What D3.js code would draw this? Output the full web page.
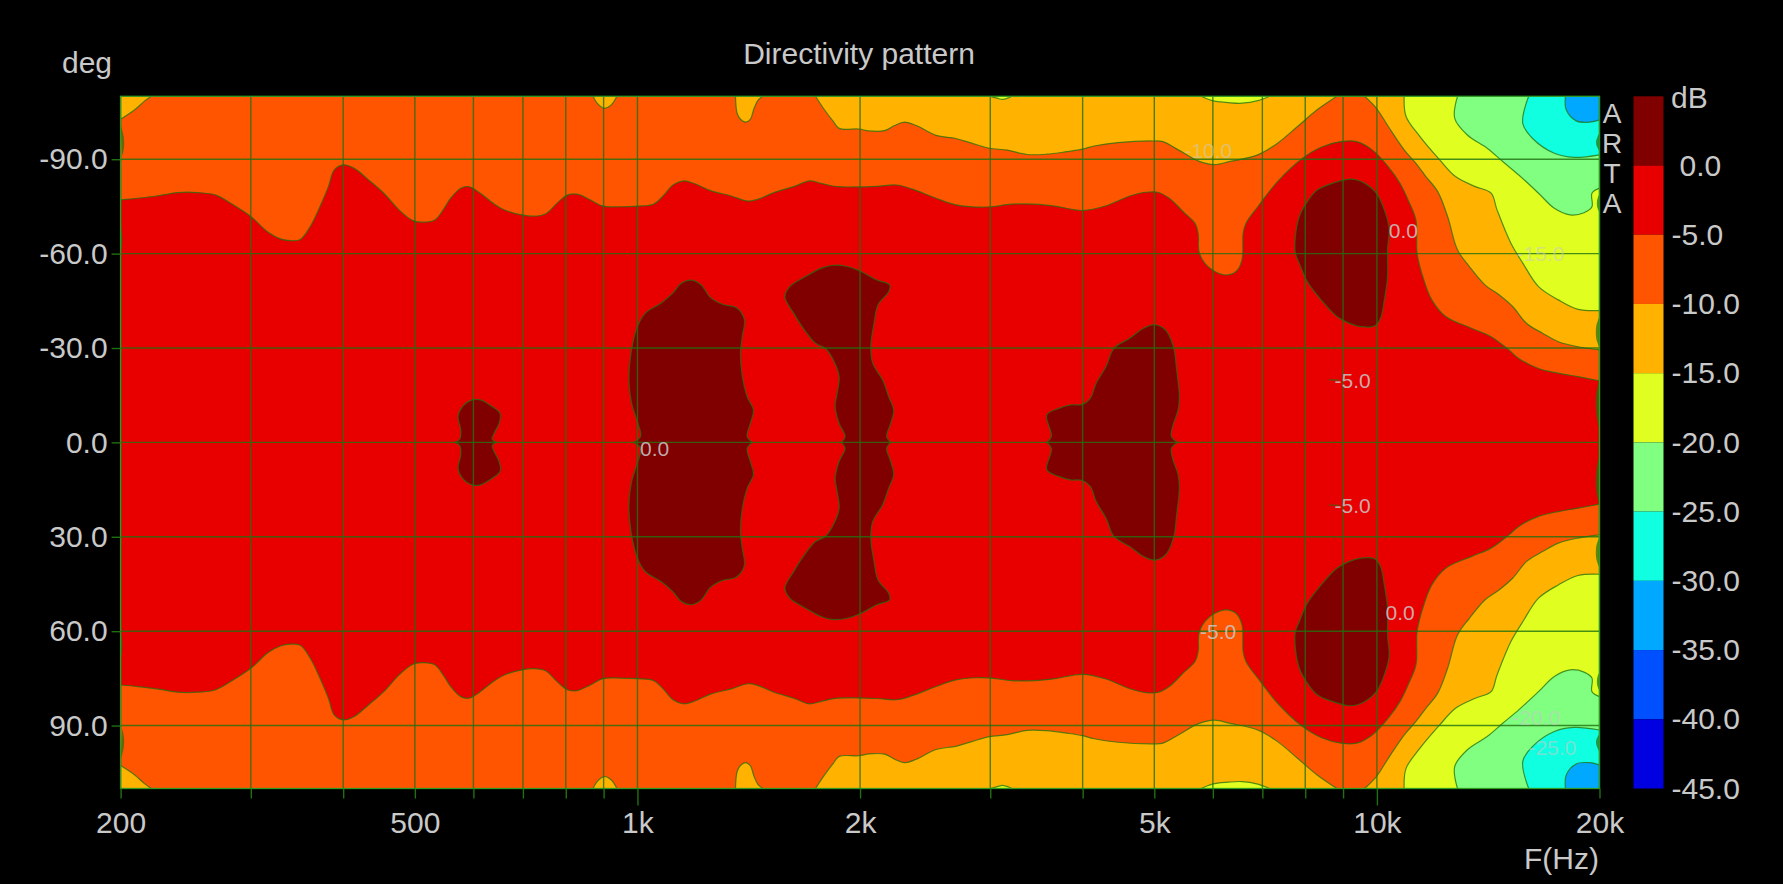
<!DOCTYPE html>
<html>
<head>
<meta charset="utf-8">
<title>Directivity pattern</title>
<script src="https://cdn.jsdelivr.net/npm/d3@7"></script>
<style>
  html, body { margin: 0; padding: 0; background: #000; overflow: hidden; }
  text { font-family: "Liberation Sans", Arial, sans-serif; fill: #c9c9c9; }
  .domain { display: none; }
</style>
</head>
<body>
<svg id="chart" width="1783" height="884"></svg>
<script>
// tick labels
const freqTicks = [200, 300, 400, 500, 600, 700, 800, 900, 1000, 2000, 3000, 4000, 5000, 6000, 7000, 8000, 9000, 10000, 20000];
const freqLabels = { 200: '200', 500: '500', 1000: '1k', 2000: '2k', 5000: '5k', 10000: '10k', 20000: '20k' };
const angleTicks = [-90, -60, -30, 0, 30, 60, 90];
const dbTicks = [0, -5, -10, -15, -20, -25, -30, -35, -40, -45];

// colour bands, top of the scale first (5 dB steps)
const bandTops = [5, 0, -5, -10, -15, -20, -25, -30, -35, -40];
const bandColors = ['#800000', '#e80000', '#ff5500', '#ffb300', '#e0ff20', '#80ff80', '#10ffe0', '#00a8ff', '#0050ff', '#0000e0'];

// the pattern is mirrored about 0 deg, so only the upper half is listed: [Hz, deg]
const minus5Line = [[200,-77.1],[211,-77.6],[225,-78.4],[239,-79.4],[254,-79.4],[269,-78.6],[284,-75.5],[300,-71.8],[317,-66.7],[329,-64.7],[340,-64.1],[350,-64.5],[361,-68.6],[372,-74.9],[382,-81.3],[389,-86.6],[400,-88.2],[414,-87.1],[432,-83.6],[454,-79.2],[476,-73.9],[497,-70.5],[513,-70],[532,-70.7],[546,-73.9],[559,-77.6],[577,-80.8],[591,-81.3],[609,-79.7],[640,-75.8],[664,-73.7],[698,-72.3],[724,-71.9],[751,-72.6],[780,-76.2],[804,-78.6],[829,-78.9],[860,-77.3],[898,-75.1],[946,-74.9],[1000,-75.1],[1051,-75.7],[1083,-78.3],[1117,-81.8],[1155,-83.1],[1196,-82.2],[1256,-80],[1336,-78.4],[1412,-76.7],[1456,-77.3],[1530,-79.4],[1627,-81.3],[1709,-83.1],[1773,-82.3],[1862,-81.3],[1981,-81.2],[2107,-81.4],[2240,-81.8],[2353,-80.5],[2534,-77.6],[2695,-75.5],[2866,-74.8],[3011,-74.9],[3202,-75.7],[3447,-75.7],[3666,-75.1],[3997,-73.7],[4302,-75.2],[4632,-78.3],[4866,-79.5],[5050,-79.5],[5239,-77.6],[5471,-73.3],[5676,-69.6],[5732,-66.4],[5747,-60.6],[5854,-56.9],[6036,-54.3],[6254,-53.2],[6449,-54.3],[6570,-58],[6594,-66.5],[6651,-69.6],[6901,-74.9],[7340,-82.9],[7902,-90],[8404,-93.8],[8938,-95.6],[9389,-95.6],[9863,-92.9],[10361,-87.6],[10750,-82.3],[11017,-77.1],[11292,-70.7],[11333,-60.1],[11575,-51.6],[11865,-45.3],[12388,-40],[13418,-36.3],[14271,-33.6],[15082,-29.4],[15554,-26.7],[16542,-23.5],[17593,-22],[18710,-20.9],[20000,-19.6]];

const minus10Corner = [[200,-102.7],[209,-105.7],[215,-108.3],[220,-110]];
const minus10Bump900 = [[871,-110],[882,-107.8],[901,-106.2],[921,-107.2],[938,-110]];
const minus10Bump1400 = [[1357,-110],[1364,-104.6],[1378,-102.7],[1400,-101.8],[1421,-102.7],[1438,-106.2],[1456,-108.8],[1478,-110]];
const minus10Mid = [[1741,-110],[1784,-106.2],[1840,-102],[1874,-99.8],[1993,-99.6],[2056,-99],[2159,-99.1],[2227,-100.7],[2296,-101.8],[2383,-100.7],[2534,-97.6],[2695,-96.6],[2831,-95.1],[2992,-93.5],[3163,-92.9],[3364,-91.5],[3577,-91.6],[3805,-92.4],[3997,-93.2],[4146,-94.2],[4465,-95.3],[4989,-95.8],[5136,-95.6],[5395,-92.9],[5738,-89.4],[6027,-88.3],[6332,-89.3],[6901,-91.4],[7340,-95.1],[7810,-100.4],[8302,-105.7],[8828,-110]];
const minus10Right = [[9623,-110],[9985,-106.2],[10361,-100.4],[10885,-93],[11292,-88.7],[11648,-84.5],[12085,-79.7],[12463,-71.8],[12852,-61.2],[13336,-55.9],[14008,-50],[14627,-46.9],[15270,-43.1],[15942,-37.8],[16748,-34.7],[17593,-32],[18710,-30.4],[20000,-29.4]];

const minus15Bump3k = [[3003,-110],[3067,-109.4],[3116,-109],[3182,-109.6],[3210,-110]];
const minus15Bump6k = [[5787,-110],[5990,-108.6],[6293,-108],[6570,-107.8],[6901,-108.6],[7161,-110]];
const minus15Right = [[10885,-110],[10951,-103.6],[11435,-97.2],[12160,-89.8],[12773,-84.5],[13584,-81.3],[14271,-79.2],[14537,-73.9],[15178,-63.3],[15749,-57],[16542,-49.5],[17593,-45.3],[18710,-42.3],[20000,-41.9]];

const minus20Right = [[12852,-110],[12742,-103],[13254,-97.7],[14095,-93.5],[14809,-89.2],[15554,-85],[16542,-79.2],[17377,-74.4],[18255,-72.3],[19059,-73],[19535,-74.9],[19535,-79.2],[20000,-80.8]];
const minus25Right = [[16041,-110],[15749,-101.4],[16240,-96.6],[17377,-91.9],[18481,-90.6],[20000,-91.4]];
const minus30Right = [[17986,-110],[18031,-105.7],[18596,-102.2],[19414,-101.8],[20000,-102.5]];

// 0 dB islands that cross the 0 deg axis, from axis to axis
const island600 = [[566,0],[575,-1],[577,-3.9],[572,-8.2],[580,-11.4],[598,-13.5],[613,-13.5],[636,-11.4],[652,-9.2],[650,-6.1],[640,-2.9],[636,-1],[644,0]];
const island1k = [[988,0],[1010,-1.9],[1000,-6.5],[982,-12.4],[974,-19.8],[980,-28.3],[1000,-36.8],[1025,-41.1],[1077,-44.3],[1117,-47.5],[1145,-50.5],[1181,-51.6],[1218,-50.2],[1256,-46],[1303,-43.9],[1361,-42.8],[1395,-39.1],[1386,-33.7],[1378,-28.4],[1386,-21],[1407,-14.6],[1435,-10.2],[1421,-6],[1407,-1.9],[1430,0]];
const island2k = [[1886,0],[1909,-1.9],[1874,-6],[1851,-11.4],[1862,-15.6],[1874,-20.9],[1840,-26.2],[1795,-29.9],[1741,-31.5],[1688,-35.2],[1627,-41],[1583,-46.3],[1607,-49.5],[1688,-52.7],[1773,-55.4],[1840,-56.3],[1921,-55.9],[2006,-54.3],[2107,-51.6],[2194,-50],[2186,-47.9],[2115,-43.7],[2089,-37.9],[2068,-30.5],[2081,-25.1],[2146,-19.8],[2186,-14.6],[2221,-10.2],[2200,-6],[2173,-1.9],[2200,0]];
const island5k = [[3577,0],[3630,-2],[3577,-8.7],[3712,-10.8],[3852,-11.9],[3997,-12.1],[4096,-14],[4172,-18.8],[4302,-24.1],[4410,-29.9],[4632,-33.1],[4837,-36.3],[5006,-37.4],[5175,-35.8],[5307,-30.4],[5360,-23],[5405,-14.5],[5385,-10.3],[5292,-5],[5272,-1.9],[5372,0]];
// closed island near 9 kHz
const island9k = [[7758,-65.4],[7854,-71.8],[8050,-76.5],[8302,-80.2],[8720,-82.4],[9218,-83.7],[9623,-82.4],[9985,-79.2],[10234,-73.9],[10387,-68],[10336,-61.2],[10336,-52.7],[10234,-45.3],[10110,-39.4],[9924,-37],[9505,-36.8],[9163,-37.9],[8828,-40],[8404,-45.3],[8050,-51.1],[7854,-56.9],[7758,-60.1]];

// thin slivers where a contour runs along the plot edge
const edgeLenses = [
  [[200,-101],[202,-97],[202.2,-94],[201,-91]],
  [[200,-69],[201,-66],[201,-63],[200,-60]],
  [[20000,-98.5],[19800,-96],[19800,-94.5],[20000,-92.5]],
  [[20000,-79],[19850,-77],[19850,-75],[20000,-73]],
  [[20000,-40],[19800,-37],[19800,-33],[20000,-30]],
  [[20000,-20],[19780,-15],[19800,-9],[20000,-4]]
];

// contour labels: text, Hz, deg
const contourLabels = [
  ['-10.0', 5917, -92.7], ['0.0', 1055, 1.8], ['0.0', 10858, -67.5], ['-15.0', 16645, -60],
  ['-5.0', 9273, -19.8], ['-5.0', 9273, 20], ['0.0', 10750, 54.2], ['-5.0', 6101, 60],
  ['-20.0', 16440, 87.3], ['-25.0', 17270, 97.1]
];
const fadedLabels = ['-10.0', '-15.0', '-20.0', '-25.0'];
// short leftover contour ends in front of the two -5.0 labels
const labelStubs = [[[8614, -19.9], [8883, -19.8]], [[8614, 19.9], [8883, 20]]];

const plot = { left: 120.6, right: 1599.5, top: 96.3, bottom: 788.5 };
const bar = { left: 1633.5, right: 1663.5 };
const gridColor = '#1f7010';

const x = d3.scaleLog().domain([200, 20000]).range([plot.left, plot.right]);
const y = d3.scaleLinear().domain([-110, 110]).range([plot.top, plot.bottom]);
const dbY = d3.scaleLinear().domain([5, -45]).range([plot.top, plot.bottom]);

const svg = d3.select('#chart');
const mirror = pts => pts.map(([f, d]) => [f, -d]);
const line = d3.line().x(d => x(d[0])).y(d => y(d[1])).curve(d3.curveCatmullRom);
const closedLine = d3.line().x(d => x(d[0])).y(d => y(d[1])).curve(d3.curveCatmullRomClosed);
const band = db => bandColors[bandTops.indexOf(db)];

svg.append('clipPath').attr('id', 'plotClip').append('rect')
  .attr('x', plot.left).attr('y', plot.top)
  .attr('width', plot.right - plot.left).attr('height', plot.bottom - plot.top);

const field = svg.append('g').attr('clip-path', 'url(#plotClip)');

// everything not covered below sits in the -5..-10 band
field.append('rect')
  .attr('x', plot.left).attr('y', plot.top)
  .attr('width', plot.right - plot.left).attr('height', plot.bottom - plot.top)
  .attr('fill', band(-5));

// fill = contour + closing corners; only the contour itself gets a stroke
function region(pts, corners, db) {
  [pts, mirror(pts)].forEach((p, i) => {
    const c = i ? mirror(corners) : corners;
    const tail = c.map(d => 'L' + x(d[0]) + ',' + y(d[1])).join('');
    field.append('path').attr('d', line(p) + tail + 'Z').attr('fill', band(db));
    field.append('path').attr('d', line(p)).attr('class', 'contour');
  });
}

region(minus5Line, [[20000, 0], [200, 0]], 0);
region(minus10Corner, [[200, -110]], -10);
region(minus10Bump900, [], -10);
region(minus10Bump1400, [], -10);
region(minus10Mid, [], -10);
region(minus10Right, [[20000, -110]], -10);
region(minus15Bump3k, [], -15);
region(minus15Bump6k, [], -15);
region(minus15Right, [[20000, -110]], -15);
region(minus20Right, [[20000, -110]], -20);
region(minus25Right, [[20000, -110]], -25);
region(minus30Right, [[20000, -110]], -30);

[island600, island1k, island2k, island5k].forEach(p => region(p, [], 5));

[island9k, mirror(island9k)].forEach(p => {
  field.append('path').attr('d', closedLine(p)).attr('fill', band(5)).attr('class', 'contour');
});

edgeLenses.forEach(p => {
  [p, mirror(p)].forEach(q => {
    field.append('path').attr('d', line(q) + 'Z').attr('fill', gridColor).attr('fill-opacity', 0.7);
  });
});

labelStubs.forEach(p => field.append('path').attr('d', line(p)).attr('class', 'contour'));

field.selectAll('.contour')
  .attr('stroke', gridColor).attr('stroke-opacity', 0.75).attr('stroke-width', 1.2)
  .filter(function() { return !this.getAttribute('fill'); }).attr('fill', 'none');

// grid over the field
const grid = svg.append('g').attr('stroke', gridColor).attr('stroke-opacity', 0.8).attr('stroke-width', 1.4);
grid.selectAll('.vgrid').data(freqTicks).join('line').attr('class', 'vgrid')
  .attr('x1', d => x(d)).attr('x2', d => x(d))
  .attr('y1', plot.top).attr('y2', plot.bottom);
grid.selectAll('.hgrid').data(angleTicks).join('line').attr('class', 'hgrid')
  .attr('x1', plot.left).attr('x2', plot.right)
  .attr('y1', d => y(d)).attr('y2', d => y(d));

svg.append('rect')
  .attr('x', plot.left).attr('y', plot.top)
  .attr('width', plot.right - plot.left).attr('height', plot.bottom - plot.top)
  .attr('fill', 'none').attr('stroke', '#2f9a22').attr('stroke-width', 1.3);

// axes
const xAxis = svg.append('g').attr('transform', `translate(0,${plot.bottom})`)
  .call(d3.axisBottom(x).tickValues(freqTicks).tickSize(10).tickPadding(13)
    .tickFormat(d => freqLabels[d] || ''));
xAxis.selectAll('line').attr('stroke', gridColor).attr('stroke-width', 1.4)
  .attr('y2', d => (d === 1000 || d === 10000) ? 17 : 10);
xAxis.selectAll('text').attr('font-size', 30).attr('fill', '#c9c9c9');

const yAxis = svg.append('g').attr('transform', `translate(${plot.left},0)`)
  .call(d3.axisLeft(y).tickValues(angleTicks).tickSize(9).tickPadding(4)
    .tickFormat(d => d.toFixed(1)));
yAxis.selectAll('line').attr('stroke', gridColor).attr('stroke-width', 1.4);
yAxis.selectAll('text').attr('font-size', 30).attr('fill', '#c9c9c9');

// contour labels
svg.append('g').selectAll('text').data(contourLabels).join('text')
  .attr('x', d => x(d[1])).attr('y', d => y(d[2]))
  .attr('text-anchor', 'middle').attr('dominant-baseline', 'central')
  .attr('font-size', 21)
  .attr('fill-opacity', d => fadedLabels.includes(d[0]) ? 0.55 : 0.85)
  .text(d => d[0]);

// colour bar
svg.append('g').selectAll('rect').data(bandTops).join('rect')
  .attr('x', bar.left).attr('width', bar.right - bar.left)
  .attr('y', d => dbY(d)).attr('height', d => dbY(d - 5) - dbY(d))
  .attr('fill', (d, i) => bandColors[i]);

const dbAxis = svg.append('g').attr('transform', `translate(${bar.right},0)`)
  .call(d3.axisRight(dbY).tickValues(dbTicks).tickSize(0).tickPadding(8)
    .tickFormat(d => d.toFixed(1)));
dbAxis.selectAll('text').attr('font-size', 30).attr('fill', '#c9c9c9')
  .attr('x', d => d === 0 ? 16 : 8);

// titles
const title = (s, tx, ty, size, anchor) => svg.append('text')
  .attr('x', tx).attr('y', ty).attr('font-size', size)
  .attr('text-anchor', anchor || 'middle').attr('dominant-baseline', 'central').text(s);
title('Directivity pattern', 859, 53, 30);
title('deg', 87, 62, 30);
title('F(Hz)', 1599, 858, 30, 'end');
title('dB', 1671, 97, 30, 'start');
['A', 'R', 'T', 'A'].forEach((c, i) => title(c, 1612, 113 + i * 30, 28));
</script>
</body>
</html>
